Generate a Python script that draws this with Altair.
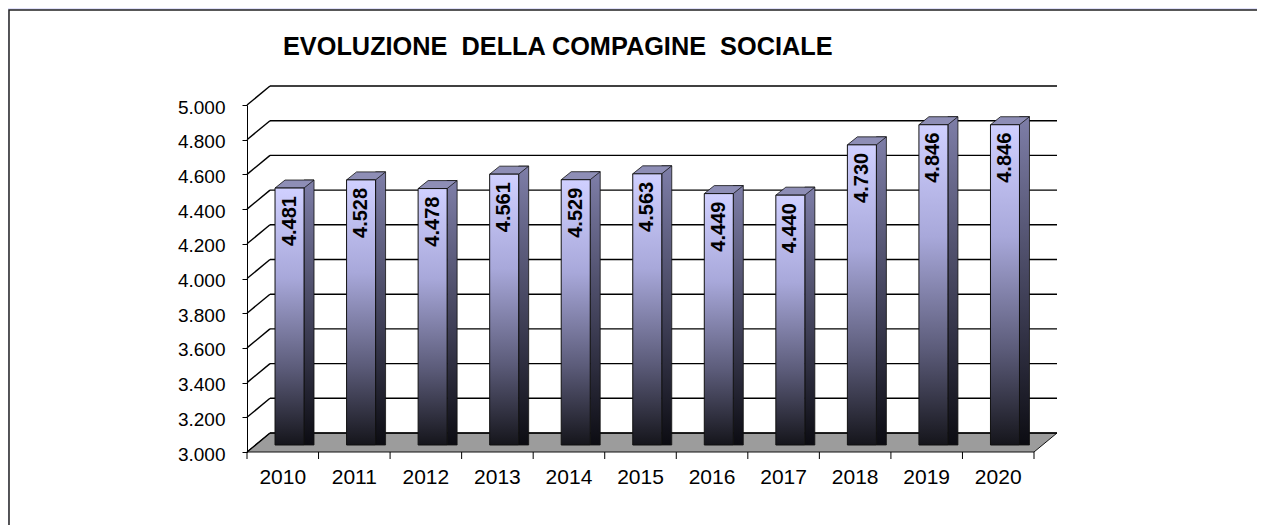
import altair as alt
import pandas as pd

# ---- data ----
years = ["2010", "2011", "2012", "2013", "2014", "2015", "2016", "2017", "2018", "2019", "2020"]
members = [4481, 4528, 4478, 4561, 4529, 4563, 4449, 4440, 4730, 4846, 4846]
y_ticks = [3000, 3200, 3400, 3600, 3800, 4000, 4200, 4400, 4600, 4800, 5000]
title_text = "EVOLUZIONE\u00a0 DELLA COMPAGINE\u00a0 SOCIALE"

# ---- geometry / style ----
W, H = 787, 347           # front plot area
DX, DY = 23, -19          # wall depth offset
BW = 29                   # bar front width
BX = 6.75                 # bar shift from band centre (depth)
BDX, BDY = 10, -8         # bar depth
LIFT = -7                 # bar lifted into depth
HALF_BAND = W / len(years) / 2
FONT = "Liberation Sans"
LABEL_EXPR = "replace(format(datum.value, ','), ',', '.')"

bars = pd.DataFrame({"year": years, "members": members})
ticks = pd.DataFrame({"v": y_ticks})
ttl = pd.DataFrame({"t": [title_text]})

yscale = alt.Scale(domain=[3000, 5000], zero=False, nice=False)
xscale = alt.Scale(domain=years, paddingInner=0, paddingOuter=0)

xaxis = alt.Axis(ticks=False, domain=False, labelAngle=0, labelFontSize=21,
                 labelFont=FONT, labelColor="#000", labelPadding=14,
                 labelBaseline="top", labelAlign="center", zindex=2)
yaxis = alt.Axis(values=y_ticks, labelExpr=LABEL_EXPR, grid=False, tickSize=5,
                 tickColor="#000", domainColor="#000", labelFontSize=19,
                 labelFont=FONT, labelColor="#000", labelPadding=17,
                 labelOffset=2, labelOverlap=False, zindex=2)

X = alt.X("year:N", scale=xscale, title=None, axis=xaxis)
Y = alt.Y("members:Q", scale=yscale, title=None, axis=yaxis)
YT = alt.Y("v:Q", scale=yscale, title=None, axis=yaxis)

base = alt.Chart(bars)

# panel (white box with border; right/bottom edges fall outside the page)
panel = alt.Chart(ttl).mark_rect(fill="white", stroke="#222", strokeWidth=1.5).encode(
    x=alt.value(-238), x2=alt.value(W + 400),
    y=alt.value(-95), y2=alt.value(H + 300))

floor_path = f"M0 0 L{DX} {DY} L{W + DX} {DY} L{W} 0 Z"
floor = alt.Chart(ttl).mark_point(shape=floor_path, size=4, filled=True, fill="#9C9C9C",
                                  stroke="#111", strokeWidth=1, opacity=1).encode(
    x=alt.value(0), y=alt.value(H))

grid_back = alt.Chart(ticks).mark_rule(color="#000", strokeWidth=1.4, yOffset=DY).encode(
    y=YT, x=alt.value(DX), x2=alt.value(W + DX))

grid_side = alt.Chart(ticks).mark_rule(color="#000", strokeWidth=1.4, y2Offset=DY).encode(
    y=YT, y2="v:Q", x=alt.value(0), x2=alt.value(DX))

xticks = base.mark_rule(color="#000", strokeWidth=1, xOffset=-HALF_BAND).encode(
    x=X, y=alt.value(H), y2=alt.value(H + 7))
xtick_end = alt.Chart(ttl).mark_rule(color="#000", strokeWidth=1).encode(
    x=alt.value(W), y=alt.value(H), y2=alt.value(H + 7))

front_grad = alt.Gradient(gradient="linear", x1=0, x2=0, y1=0, y2=1, stops=[
    alt.GradientStop(color="#D0D0FF", offset=0),
    alt.GradientStop(color="#A8A8DA", offset=0.35),
    alt.GradientStop(color="#5C5C7A", offset=0.7),
    alt.GradientStop(color="#15151B", offset=1)])
side_grad = alt.Gradient(gradient="linear", x1=0, x2=0, y1=0, y2=1, stops=[
    alt.GradientStop(color="#7E7EA8", offset=0),
    alt.GradientStop(color="#3A3A50", offset=0.6),
    alt.GradientStop(color="#0C0C12", offset=1)])

side = base.mark_bar(width=BDX, xOffset=BX + BW / 2 + BDX / 2, yOffset=LIFT + BDY,
                     y2Offset=LIFT, fill=side_grad, stroke="#111", strokeWidth=0.8).encode(
    x=X, y=Y, y2=alt.datum(3000))

xl, xr = BX - BW / 2, BX + BW / 2
top_path = (f"M{xl} {LIFT} L{xl + BDX} {LIFT + BDY} L{xr + BDX} {LIFT + BDY} "
            f"L{xr} {LIFT} Z")
topface = base.mark_point(shape=top_path, size=4, filled=True, fill="#8E8EB6",
                          stroke="#111", strokeWidth=0.8, opacity=1).encode(x=X, y=Y)

front = base.mark_bar(width=BW, xOffset=BX, yOffset=LIFT, y2Offset=LIFT, fill=front_grad,
                      stroke="#111", strokeWidth=1).encode(
    x=X, y=Y, y2=alt.datum(3000))

labels = base.transform_calculate(
    lab="replace(format(datum.members, ','), ',', '.')"
).mark_text(angle=270, align="right", baseline="middle", font=FONT, fontSize=20,
            fontWeight="bold", color="#000", xOffset=BX, yOffset=LIFT + 8).encode(
    x=X, y=Y, text="lab:N")

title = alt.Chart(ttl).mark_text(align="left", baseline="alphabetic", font=FONT,
                                 fontSize=25.3, fontWeight="bold", color="#000").encode(
    x=alt.value(36), y=alt.value(-50), text="t:N")

chart = alt.layer(panel, floor, grid_back, grid_side, xticks, xtick_end,
                  side, topface, front, labels, title).properties(
    width=W, height=H,
    autosize=alt.AutoSizeParams(type="none"),
    padding={"left": 239, "top": 97, "right": 223, "bottom": 73},
    background="#E1E1FA",
).configure_view(stroke=None)

chart.save("out.html", embed_options={"renderer": "svg", "actions": False})
